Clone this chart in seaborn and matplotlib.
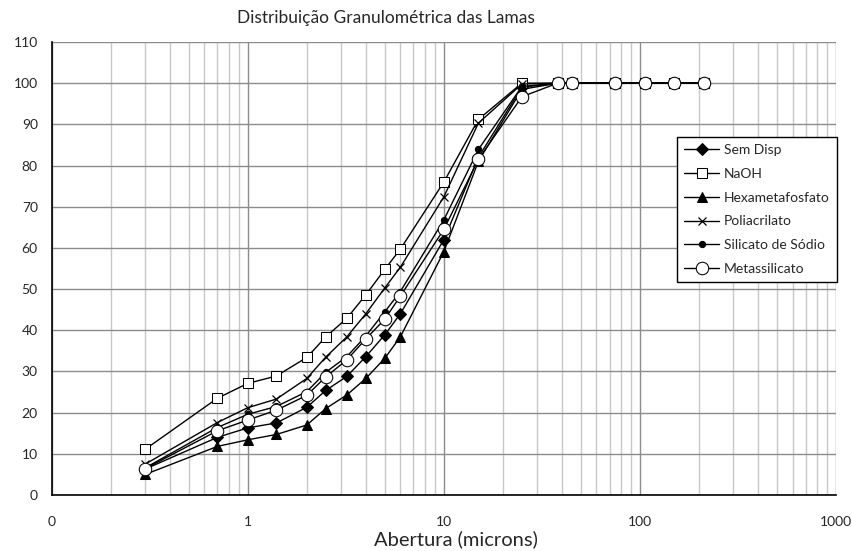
import numpy as np
import pandas as pd
import seaborn as sns
import matplotlib.pyplot as plt
from matplotlib.ticker import FixedLocator, FixedFormatter, NullFormatter

# abertura (microns)
abertura = [0.3, 0.7, 1.0, 1.4, 2.0, 2.5, 3.2, 4.0, 5.0, 6.0, 10, 15, 25, 38, 45, 75, 106, 150, 212]

sem_disp = [6.3, 14.0, 16.3, 17.5, 21.3, 25.4, 28.8, 33.6, 38.9, 44.0, 62.0, 82.0, 99.0, 100, 100, 100, 100, 100, 100]
naoh = [11.1, 23.5, 27.1, 28.9, 33.4, 38.4, 42.9, 48.6, 54.8, 59.7, 76.0, 91.2, 100.0, 100, 100, 100, 100, 100, 100]
hexameta = [5.0, 11.8, 13.4, 14.7, 17.0, 21.0, 24.3, 28.3, 33.2, 38.4, 59.1, 81.0, 98.5, 100, 100, 100, 100, 100, 100]
poliacrilato = [7.5, 17.6, 21.2, 23.3, 28.3, 33.5, 38.4, 44.0, 50.3, 55.3, 72.4, 90.3, 99.8, 100, 100, 100, 100, 100, 100]
silicato = [6.6, 16.4, 19.6, 21.5, 25.1, 29.8, 33.6, 38.6, 44.5, 49.4, 66.8, 83.9, 99.2, 100, 100, 100, 100, 100, 100]
metassilicato = [6.4, 15.6, 18.2, 20.6, 24.2, 28.7, 32.8, 37.9, 42.7, 48.3, 64.5, 81.5, 96.7, 100, 100, 100, 100, 100, 100]

series = [
    ('Sem Disp', sem_disp, dict(marker='D', markersize=6, markerfacecolor='black')),
    ('NaOH', naoh, dict(marker='s', markersize=7, markerfacecolor='white')),
    ('Hexametafosfato', hexameta, dict(marker='^', markersize=7.5, markerfacecolor='black')),
    ('Poliacrilato', poliacrilato, dict(marker='x', markersize=6, markeredgewidth=0.9)),
    ('Silicato de Sódio', silicato, dict(marker='o', markersize=4.5, markerfacecolor='black')),
    ('Metassilicato', metassilicato, dict(marker='o', markersize=9, markerfacecolor='white')),
]

sns.set_style('white')
plt.rcParams['font.family'] = ['Lato', 'DejaVu Sans']

W, H = 852, 551
fig = plt.figure(figsize=(W / 100, H / 100), dpi=100)
left, right, top, bottom = 51.7, 836, 42, 495
ax = fig.add_axes([left / W, (H - bottom) / H, (right - left) / W, (bottom - top) / H])

for name, vals, kw in series:
    df = pd.DataFrame({'x': abertura, 'y': vals})
    sns.lineplot(data=df, x='x', y='y', ax=ax, color='black', linewidth=1.0,
                 markeredgecolor='black', label=name, **kw)

ax.set_xscale('log')
ax.set_xlim(0.1, 1000)
ax.set_ylim(0, 110)
ax.set_yticks(np.arange(0, 111, 10))

majors = [0.1, 1, 10, 100, 1000]
ax.xaxis.set_major_locator(FixedLocator(majors))
ax.xaxis.set_major_formatter(FixedFormatter(['0', '1', '10', '100', '1000']))
minors = [m * d for d in [0.1, 1, 10, 100] for m in range(2, 10)]
ax.xaxis.set_minor_locator(FixedLocator(minors))
ax.xaxis.set_minor_formatter(NullFormatter())

ax.grid(True, which='major', axis='both', color='#8c8c8c', linewidth=1.0)
ax.grid(True, which='minor', axis='x', color='#c8c8c8', linewidth=1.0)
ax.set_axisbelow(True)

for s in ['top', 'right']:
    ax.spines[s].set_visible(False)
for s in ['left', 'bottom']:
    ax.spines[s].set_color('black')
    ax.spines[s].set_linewidth(1.2)

ax.tick_params(axis='both', which='major', direction='out', length=5, width=1,
               color='black', labelsize=10)
ax.tick_params(axis='x', which='major', pad=10)
ax.tick_params(axis='y', which='major', pad=5)
ax.tick_params(axis='x', which='minor', length=0)

ax.set_xlabel('')
ax.set_ylabel('')
fig.text(386 / W, 1 - 18 / H, 'Distribuição Granulométrica das Lamas', fontsize=12.5,
         ha='center', va='center')
fig.text(456 / W, 1 - 539 / H, 'Abertura (microns)', fontsize=14.5,
         ha='center', va='center')

leg = ax.legend(loc='upper right', bbox_to_anchor=(1.001, 0.79), borderaxespad=0,
                fontsize=10, frameon=True, fancybox=False, edgecolor='black',
                framealpha=1, handlelength=2.5, borderpad=0.5, labelspacing=0.85,
                handletextpad=0.35)
leg.get_frame().set_linewidth(1.0)

fig.savefig('out.png', dpi=100)
